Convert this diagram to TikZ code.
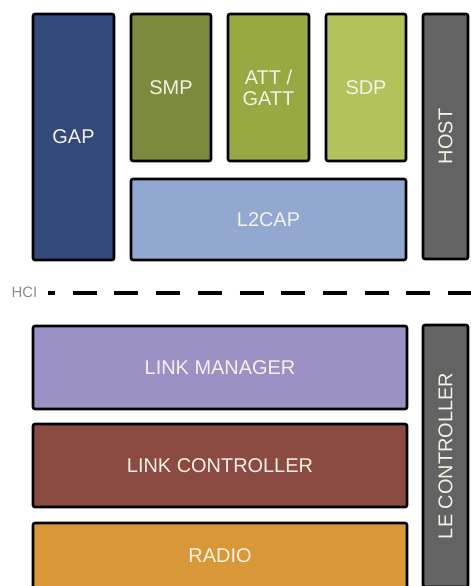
\documentclass[tikz,border=0pt]{standalone}
\usepackage{fontspec}
\setmainfont{Liberation Sans}
\definecolor{cgap}{HTML}{34497B}
\definecolor{csmp}{HTML}{7B8A3C}
\definecolor{catt}{HTML}{98A843}
\definecolor{csdp}{HTML}{B4C25C}
\definecolor{cl2cap}{HTML}{93A8D0}
\definecolor{chost}{HTML}{636363}
\definecolor{clm}{HTML}{9B91C5}
\definecolor{clc}{HTML}{8B4B43}
\definecolor{cradio}{HTML}{D99838}
\definecolor{ctxt}{HTML}{F4F2E6}
\tikzset{
  blk/.style={draw=black, line width=2.6bp, rounded corners=2bp, inner sep=0pt,
    text=ctxt, font=\fontsize{20}{20}\selectfont, align=center},
  vtext/.style={text=ctxt, font=\fontsize{20}{20}\selectfont, rotate=90},
  hcitext/.style={text=gray!90, font=\fontsize{15}{16}\selectfont, inner sep=0pt},
  sepline/.style={line width=3.5bp, dash pattern=on 24bp off 17.7bp, dash phase=17bp}
}
\begin{document}
\begin{tikzpicture}[x=1bp, y=-1bp]
\useasboundingbox (0,0) rectangle (471,586);
\clip (0,0) rectangle (471,586);
% host side
\node[blk, fill=cgap, minimum width=81bp, minimum height=246bp] (gap) at (73.5,137) {GAP};
\node[blk, fill=csmp, minimum width=80bp, minimum height=147bp] (smp) at (171,87.5) {SMP};
\node[blk, fill=catt, minimum width=81bp, minimum height=147bp] (att) at (268.5,87.5) {ATT /\\[1bp]GATT};
\node[blk, fill=csdp, minimum width=80bp, minimum height=147bp] (sdp) at (366,87.5) {SDP};
\node[blk, fill=cl2cap, minimum width=275bp, minimum height=81bp] (l2cap) at (268.5,219.5) {L2CAP};
\node[blk, fill=chost, minimum width=45bp, minimum height=245bp] (host) at (445.5,136.5) {};
\node[vtext] (hostlbl) at (host.center) {HOST};
% HCI separator
\node[hcitext] (hci) at (24.5,292) {HCI};
\coordinate (hcis) at (48,293);
\coordinate (hcie) at (471,293);
\draw[sepline] (hcis) -- (hcie);
% controller side
\node[blk, fill=clm, minimum width=374bp, minimum height=83bp] (lm) at (220,367.5) {LINK MANAGER};
\node[blk, fill=clc, minimum width=374bp, minimum height=83bp] (lc) at (220,465.5) {LINK CONTROLLER};
\node[blk, fill=cradio, minimum width=374bp, minimum height=66bp] (radio) at (220,556) {RADIO};
\node[blk, fill=chost, minimum width=45bp, minimum height=262bp] (le) at (445.5,456) {};
\node[vtext] (lelbl) at (le.center) {LE CONTROLLER};
\end{tikzpicture}
\end{document}
